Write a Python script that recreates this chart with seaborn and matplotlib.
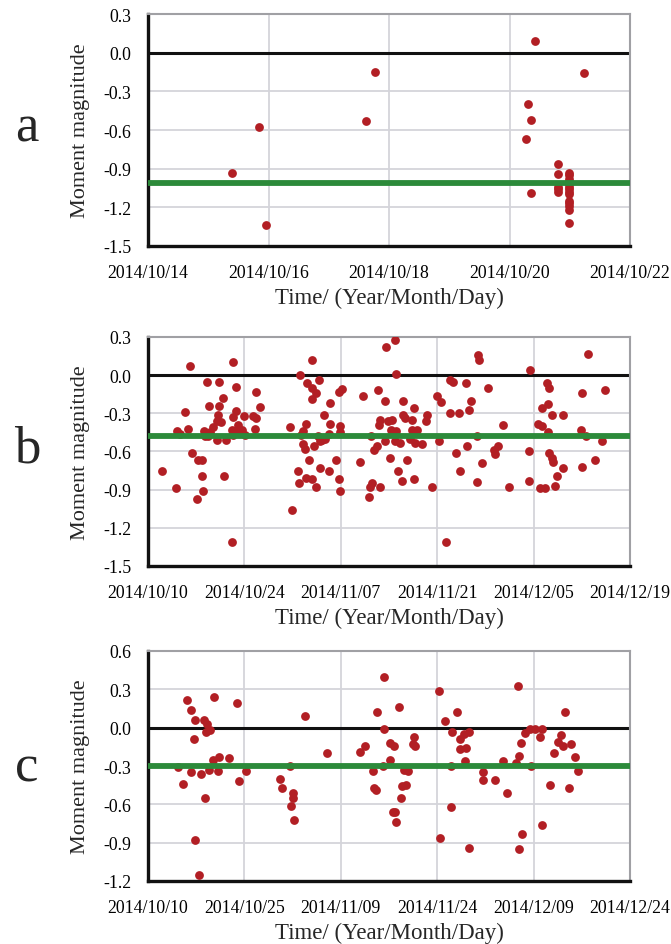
import numpy as np
import pandas as pd
import matplotlib
matplotlib.use("Agg")
import matplotlib.pyplot as plt
import matplotlib.dates as mdates
from matplotlib.ticker import FormatStrFormatter
import seaborn as sns

sns.set_theme(style="white")
plt.rcParams['font.family'] = ['Liberation Serif', 'DejaVu Serif']
plt.rcParams['axes.unicode_minus'] = False

RED = "#b21f24"
GREEN = "#2c8a3a"

# ---- panel a: days since 2014/10/14, moment magnitude
a_start = "2014-10-14"
a_days = [1.39, 1.85, 1.96, 3.62, 3.77, 6.27, 6.30, 6.36, 6.36, 6.42, 7.24,
          6.80, 6.80, 6.80, 6.80, 6.80,
          6.99, 6.99, 6.99, 6.99, 6.99, 6.99, 6.99, 6.99, 6.99, 6.99, 6.99,
          6.99, 6.99, 6.99]
a_mag = [-0.93, -0.58, -1.34, -0.53, -0.15, -0.67, -0.40, -0.52, -1.09, 0.09, -0.16,
         -0.86, -0.94, -1.04, -1.06, -1.08,
         -0.93, -0.95, -0.98, -1.00, -1.02, -1.04, -1.06, -1.08, -1.10, -1.15,
         -1.17, -1.19, -1.22, -1.32]
a_level = -1.01

# ---- panel b: days since 2014/10/10
b_start = "2014-10-10"
b_days = [6.11, 12.41, 8.53, 10.38, 12.75, 10.96, 8.92, 10.38, 5.38, 12.75, 10.13,
          12.32, 13.87, 9.99, 10.62, 13.14, 9.50, 5.77, 4.17, 4.65, 8.19, 9.02,
          8.29, 8.78, 9.99, 11.30, 12.27, 12.90, 13.62, 12.41, 14.10, 6.35, 7.32,
          7.81, 2.08, 7.81, 11.10, 4.12, 8.00, 7.08, 12.22,
          15.66, 16.29, 15.32, 15.71, 15.51, 23.80, 22.11, 23.08, 24.78, 23.80,
          24.44, 23.80, 26.38, 27.68, 28.16, 25.53, 22.93, 26.38, 27.83, 20.65,
          22.50, 22.21, 26.23, 27.83, 24.63, 25.26, 24.93, 25.74, 24.14, 22.50,
          22.84, 23.32, 27.35, 21.78, 24.93, 26.23, 22.93, 23.80, 22.00, 24.39,
          27.68, 27.83, 20.90,
          35.83, 34.52, 35.98, 33.41, 31.22, 34.38, 37.05, 38.60, 37.00, 37.38,
          40.58, 40.39, 38.40, 33.75, 33.55, 34.86, 35.49, 35.35, 35.98, 38.40,
          39.08, 32.44, 34.38, 35.83, 36.56, 38.11, 38.74, 39.86, 42.28, 33.26,
          32.78, 35.11, 37.62, 30.84, 36.30, 36.90, 38.59, 32.58, 32.29, 33.75,
          41.31, 32.10,
          47.95, 48.14, 55.46, 43.83, 44.27, 46.11, 49.41, 41.99, 42.62, 46.84,
          46.64, 43.83, 45.19, 51.59, 47.71, 46.26, 50.86, 44.80, 50.23, 50.33,
          55.32, 48.48, 45.38, 47.81, 55.32, 52.36, 43.30,
          63.95, 57.89, 58.28, 63.08, 66.33, 57.16, 58.08, 58.62, 60.32, 56.58,
          57.16, 58.04, 62.84, 63.61, 65.99, 58.28, 58.62, 58.86, 64.87, 60.32,
          63.08, 59.35, 59.06, 56.92, 57.69]
b_mag = [0.07, 0.10, -0.05, -0.05, -0.09, -0.18, -0.24, -0.24, -0.29, -0.28, -0.31,
         -0.33, -0.32, -0.36, -0.37, -0.39, -0.41, -0.42, -0.44, -0.46, -0.44, -0.45,
         -0.48, -0.48, -0.51, -0.51, -0.43, -0.44, -0.43, -0.47, -0.47, -0.61, -0.67,
         -0.67, -0.75, -0.79, -0.79, -0.89, -0.91, -0.97, -1.31,
         -0.13, -0.25, -0.32, -0.34, -0.42, 0.12, 0.00, -0.06, -0.04, -0.10,
         -0.14, -0.19, -0.22, -0.13, -0.11, -0.31, -0.38, -0.38, -0.40, -0.41,
         -0.44, -0.47, -0.46, -0.45, -0.48, -0.51, -0.52, -0.50, -0.56, -0.54,
         -0.58, -0.67, -0.67, -0.75, -0.73, -0.75, -0.81, -0.82, -0.85, -0.88,
         -0.82, -0.91, -1.06,
         0.28, 0.22, 0.01, -0.12, -0.16, -0.20, -0.20, -0.26, -0.31, -0.34,
         -0.31, -0.36, -0.35, -0.35, -0.39, -0.36, -0.35, -0.43, -0.44, -0.43,
         -0.43, -0.48, -0.52, -0.52, -0.53, -0.50, -0.53, -0.54, -0.52, -0.56,
         -0.59, -0.65, -0.67, -0.68, -0.75, -0.83, -0.82, -0.85, -0.88, -0.88,
         -0.88, -0.96,
         0.16, 0.12, 0.04, -0.04, -0.05, -0.06, -0.10, -0.16, -0.21, -0.20,
         -0.27, -0.30, -0.30, -0.39, -0.48, -0.56, -0.56, -0.61, -0.59, -0.62,
         -0.60, -0.69, -0.75, -0.84, -0.83, -0.88, -1.31,
         0.17, -0.06, -0.10, -0.14, -0.12, -0.26, -0.23, -0.31, -0.31, -0.38,
         -0.40, -0.45, -0.43, -0.48, -0.52, -0.61, -0.65, -0.68, -0.67, -0.73,
         -0.72, -0.79, -0.87, -0.89, -0.89]
b_level = -0.48

# ---- panel c: days since 2014/10/10
c_start = "2014-10-10"
c_days = [6.07, 10.28, 13.80, 6.69, 7.32, 8.67, 9.13, 9.03, 9.65, 7.11, 24.49,
          11.05, 10.07, 12.56, 4.72, 6.69, 8.25, 9.44, 10.85, 5.50, 14.22, 15.20,
          8.87, 7.32, 7.89, 22.11, 20.55, 20.91, 22.52, 22.52, 22.32, 22.68, 27.87,
          36.69, 35.70, 36.69, 33.73, 32.95, 37.68, 38.25, 37.73, 36.53, 34.98,
          35.13, 35.49, 38.09, 38.50, 38.66,
          39.10, 39.46, 39.31, 40.14, 40.45, 39.83, 41.38, 41.48, 41.20, 45.21,
          45.36, 46.14, 48.10, 47.33, 49.14, 49.91, 48.52, 48.52, 49.55, 49.40,
          47.17, 47.17, 49.91, 52.09, 52.09, 54.05, 55.81, 55.24, 57.57, 57.26,
          57.78, 58.04, 58.71, 59.38, 60.16, 61.30, 60.93, 59.59, 58.19, 57.78,
          61.30, 62.54, 63.11, 63.73, 64.30, 64.50, 64.85, 65.85, 66.47, 66.88,
          65.49]
c_mag = [0.22, 0.24, 0.19, 0.14, 0.06, 0.06, 0.03, -0.03, -0.02, -0.09, 0.09,
         -0.23, -0.25, -0.24, -0.31, -0.35, -0.36, -0.33, -0.34, -0.44, -0.42, -0.34,
         -0.55, -0.88, -1.15, -0.30, -0.40, -0.47, -0.51, -0.55, -0.61, -0.72, -0.20,
         0.40, 0.12, -0.01, -0.14, -0.19, -0.12, -0.14, -0.25, -0.30, -0.34,
         -0.47, -0.49, -0.66, -0.66, -0.74,
         0.16, -0.46, -0.55, -0.45, -0.34, -0.33, -0.07, -0.14, -0.13, 0.29,
         -0.86, 0.05, 0.12, -0.03, -0.05, -0.03, -0.09, -0.17, -0.16, -0.26,
         -0.30, -0.62, -0.94, -0.35, -0.41, -0.41, -0.51, -0.26, 0.33, -0.28,
         -0.22, -0.12, -0.04, -0.01, -0.01, -0.01, -0.07, -0.30, -0.83, -0.95,
         -0.76, -0.45, -0.20, -0.11, -0.06, -0.14, 0.12, -0.13, -0.23, -0.34,
         -0.47]
c_level = -0.30


def draw_panel(ax, start, days, mags, step, ylim, level):
    t0 = pd.Timestamp(start)
    df = pd.DataFrame({"time": t0 + pd.to_timedelta(days, unit="D"), "mag": mags})
    ticks = pd.date_range(t0, periods=5 if step == 2 else 6, freq=f"{step}D")

    sns.scatterplot(data=df, x="time", y="mag", ax=ax, color=RED, s=40,
                    linewidth=0, zorder=3)
    ax.axhline(0, color="#111111", lw=2.2, zorder=2)
    ax.axhline(level, color=GREEN, lw=4.2, zorder=4)

    ax.set_xlim(ticks[0], ticks[-1])
    ax.set_xticks(ticks)
    ax.xaxis.set_major_formatter(mdates.DateFormatter("%Y/%m/%d"))
    ax.set_ylim(*ylim)
    ax.set_yticks(np.round(np.linspace(ylim[0], ylim[1], 7), 1) + 0.0)
    ax.yaxis.set_major_formatter(FormatStrFormatter("%.1f"))

    ax.grid(True, color="#d4d4da", lw=1.3)
    ax.set_axisbelow(True)
    for side in ["left", "bottom"]:
        ax.spines[side].set_color("#111111")
        ax.spines[side].set_linewidth(2.4)
    for side in ["top", "right"]:
        ax.spines[side].set_color("#a0a0a4")
        ax.spines[side].set_linewidth(1.5)
    ax.tick_params(length=0, labelsize=12.8, colors="black")
    ax.tick_params(axis="x", pad=13)
    ax.tick_params(axis="y", pad=12)

    ax.set_xlabel("Time/ (Year/Month/Day)", fontsize=16.5, labelpad=4)
    ax.set_ylabel("Moment magnitude", fontsize=16)
    ax.yaxis.set_label_coords(-0.12, 0.5)


W, H = 671, 945
fig = plt.figure(figsize=(W / 100, H / 100), dpi=100)

# (top px, bottom px, letter baseline px)
layout = [(15, 247, 142), (338, 567, 463), (652, 882, 782)]
panels = [
    (a_start, a_days, a_mag, 2, (-1.5, 0.3), a_level, "a"),
    (b_start, b_days, b_mag, 14, (-1.5, 0.3), b_level, "b"),
    (c_start, c_days, c_mag, 15, (-1.2, 0.6), c_level, "c"),
]

for (top, bot, base), (start, days, mags, step, ylim, level, letter) in zip(layout, panels):
    ax = fig.add_axes([148 / W, 1 - bot / H, 482 / W, (bot - top) / H])
    draw_panel(ax, start, days, mags, step, ylim, level)
    fig.text(27 / W, 1 - base / H, letter, fontsize=38, ha="center", va="baseline")

fig.savefig("out.png", dpi=100)
